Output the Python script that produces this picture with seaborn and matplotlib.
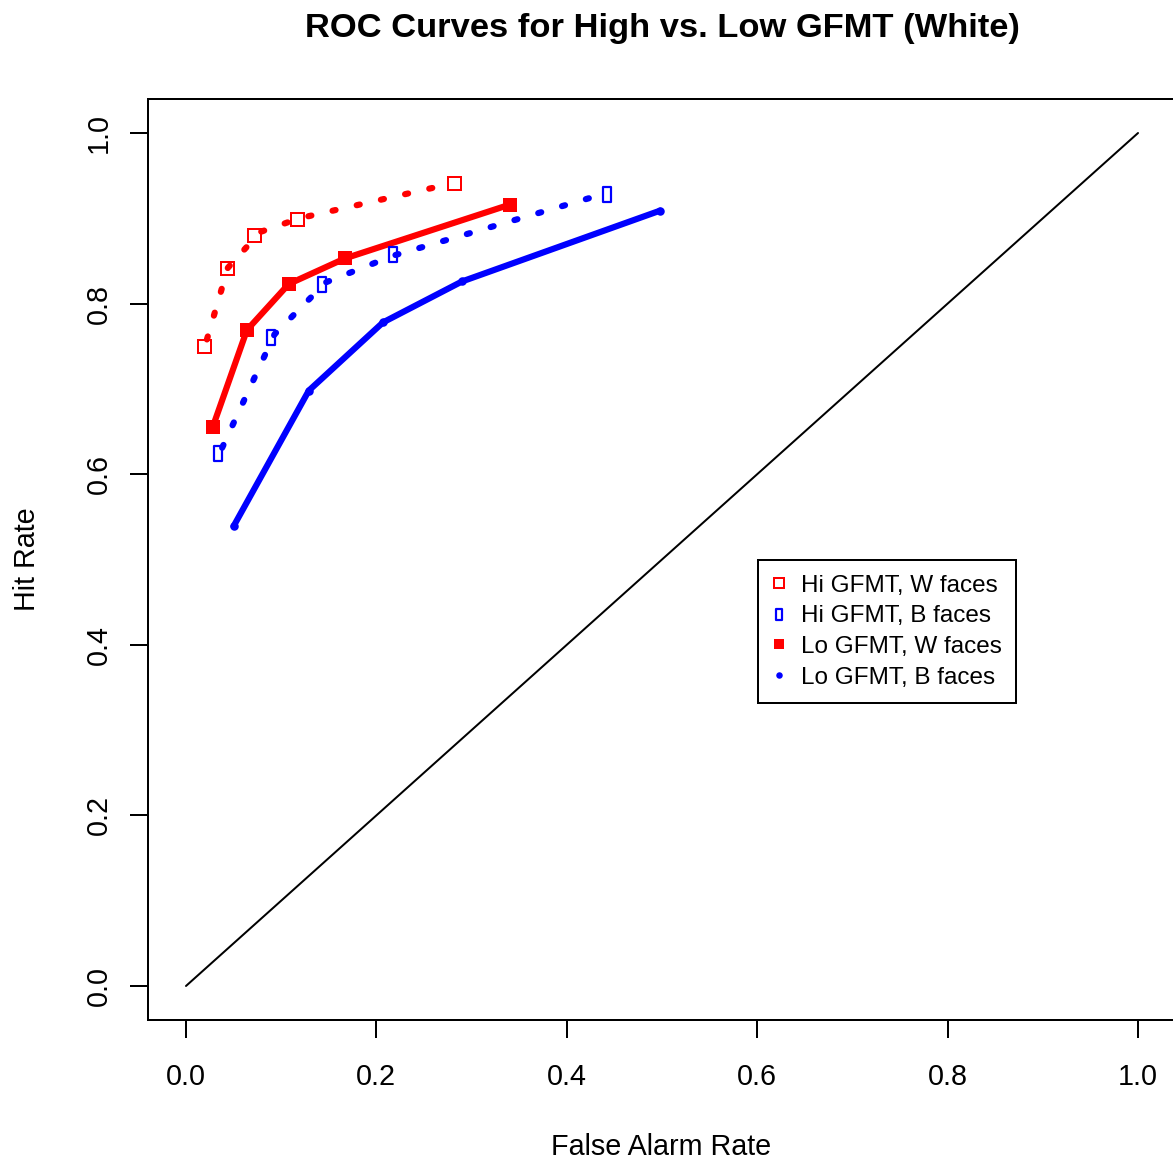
import numpy as np
import pandas as pd
import seaborn as sns
import matplotlib
matplotlib.use("Agg")
import matplotlib.pyplot as plt
from matplotlib.path import Path
from matplotlib.lines import Line2D

# ---------------- data ----------------
# Hi GFMT, White faces (open red squares, dotted red line)
hi_w_fa = [0.019, 0.043, 0.071, 0.117, 0.281]
hi_w_hit = [0.750, 0.842, 0.881, 0.899, 0.941]
hi_w_line_fa = [0.022, 0.044, 0.078, 0.119, 0.280]
hi_w_line_hit = [0.758, 0.842, 0.884, 0.900, 0.941]

# Hi GFMT, Black faces (open blue narrow rectangles, dotted blue line)
hi_b_fa = [0.034, 0.089, 0.143, 0.217, 0.442]
hi_b_hit = [0.625, 0.761, 0.823, 0.858, 0.929]
hi_b_line_fa = [0.038, 0.093, 0.147, 0.217, 0.443]
hi_b_line_hit = [0.631, 0.764, 0.825, 0.856, 0.930]

# Lo GFMT, White faces (filled red squares, solid red line)
lo_w_fa = [0.028, 0.064, 0.108, 0.167, 0.340]
lo_w_hit = [0.655, 0.769, 0.823, 0.853, 0.916]

# Lo GFMT, Black faces (small blue dots, solid blue line)
lo_b_fa = [0.050, 0.129, 0.207, 0.290, 0.498]
lo_b_hit = [0.539, 0.698, 0.778, 0.826, 0.909]

chance_x = [0.0, 1.0]
chance_y = [0.0, 1.0]

x_ticks = [0.0, 0.2, 0.4, 0.6, 0.8, 1.0]
y_ticks = [0.0, 0.2, 0.4, 0.6, 0.8, 1.0]
legend_labels = ["Hi GFMT, W faces", "Hi GFMT, B faces",
                 "Lo GFMT, W faces", "Lo GFMT, B faces"]
title = "ROC Curves for High vs. Low GFMT (White)"
xlabel = "False Alarm Rate"
ylabel = "Hit Rate"

# ---------------- style ----------------
sns.set_style("ticks")
plt.rcParams["font.family"] = ["Liberation Sans", "DejaVu Sans"]
plt.rcParams["text.color"] = "black"
plt.rcParams["axes.labelcolor"] = "black"
plt.rcParams["xtick.color"] = "black"
plt.rcParams["ytick.color"] = "black"

W, H = 1173, 1166
DPI = 100
PX = 72.0 / DPI  # points per pixel

fig = plt.figure(figsize=(W / DPI, H / DPI), dpi=DPI)
ax_left, ax_right, ax_top, ax_bottom = 147.9, 1176.1, 98.9, 1020.1
ax = fig.add_axes([ax_left / W, 1 - ax_bottom / H,
                   (ax_right - ax_left) / W, (ax_bottom - ax_top) / H])

RED = "#FF0000"
BLUE = "#0000FF"
thick = 6.2 * PX
thin = 2.0 * PX
dotted = (0, (0.5, 3.5))

rect_marker = Path([(-0.5, -1.0), (0.5, -1.0), (0.5, 1.0), (-0.5, 1.0), (-0.5, -1.0)],
                   [Path.MOVETO, Path.LINETO, Path.LINETO, Path.LINETO, Path.CLOSEPOLY])

# chance diagonal
sns.lineplot(x=chance_x, y=chance_y, ax=ax, color="black", linewidth=thin,
             sort=False, estimator=None)

# dotted lines (Hi GFMT)
sns.lineplot(x=hi_w_line_fa, y=hi_w_line_hit, ax=ax, color=RED, linewidth=thick,
             linestyle=dotted, dash_capstyle="round", sort=False, estimator=None)
sns.lineplot(x=hi_b_line_fa, y=hi_b_line_hit, ax=ax, color=BLUE, linewidth=thick,
             linestyle=dotted, dash_capstyle="round", sort=False, estimator=None)

# solid lines (Lo GFMT)
sns.lineplot(x=lo_b_fa, y=lo_b_hit, ax=ax, color=BLUE, linewidth=thick,
             sort=False, estimator=None, marker="o", markersize=8.5 * PX,
             markeredgewidth=0, markerfacecolor=BLUE, solid_capstyle="round",
             solid_joinstyle="round")
sns.lineplot(x=lo_w_fa, y=lo_w_hit, ax=ax, color=RED, linewidth=thick,
             sort=False, estimator=None, marker="s", markersize=14.5 * PX,
             markeredgewidth=0, markerfacecolor=RED, solid_capstyle="round",
             solid_joinstyle="round")

# open markers (Hi GFMT)
sns.lineplot(x=hi_w_fa, y=hi_w_hit, ax=ax, linestyle="none", marker="s",
             markersize=13 * PX, markerfacecolor="none", markeredgecolor=RED,
             markeredgewidth=2.0 * PX, sort=False, estimator=None, color=RED)
sns.lineplot(x=hi_b_fa, y=hi_b_hit, ax=ax, linestyle="none", marker=rect_marker,
             markersize=15 * PX, markerfacecolor="none", markeredgecolor=BLUE,
             markeredgewidth=2.2 * PX, sort=False, estimator=None, color=BLUE)

# axes styling
ax.set_xlim(-0.04, 1.04)
ax.set_ylim(-0.04, 1.04)
ax.set_xticks(x_ticks)
ax.set_yticks(y_ticks)
ax.set_xticklabels([f"{t:.1f}" for t in x_ticks])
ax.set_yticklabels([f"{t:.1f}" for t in y_ticks], rotation=90, va="center")
for s in ax.spines.values():
    s.set_visible(True)
    s.set_color("black")
    s.set_linewidth(thin)
fs = 28.8 * PX
ax.tick_params(axis="both", direction="out", length=18 * PX, width=thin,
               color="black", labelsize=fs, labelcolor="black")
ax.tick_params(axis="x", pad=25 * PX)
ax.tick_params(axis="y", pad=17 * PX)
ax.tick_params(top=False, right=False)

ax.set_xlabel(xlabel, fontsize=fs, color="black")
ax.set_ylabel(ylabel, fontsize=fs, color="black")
ax.xaxis.set_label_coords((661.5 - ax_left) / (ax_right - ax_left),
                          (ax_bottom - 1133) / (ax_bottom - ax_top))
ax.yaxis.set_label_coords((41 - ax_left) / (ax_right - ax_left), 0.5)
ax.set_title(title, fontsize=34.5 * PX, fontweight="bold", color="black",
             pad=(ax_top - 37) * PX)
ax.grid(False)

# legend
handles = [
    Line2D([], [], linestyle="none", marker="s", markersize=10 * PX,
           markerfacecolor="none", markeredgecolor=RED, markeredgewidth=2 * PX),
    Line2D([], [], linestyle="none", marker=rect_marker, markersize=11 * PX,
           markerfacecolor="none", markeredgecolor=BLUE, markeredgewidth=2.2 * PX),
    Line2D([], [], linestyle="none", marker="s", markersize=10.5 * PX,
           markerfacecolor=RED, markeredgewidth=0),
    Line2D([], [], linestyle="none", marker="o", markersize=6.5 * PX,
           markerfacecolor=BLUE, markeredgewidth=0),
]
leg = ax.legend(handles, legend_labels, loc="upper left",
                bbox_to_anchor=(758 / W, 1 - 560 / H), bbox_transform=fig.transFigure,
                borderaxespad=0, fontsize=24.2 * PX, frameon=True, fancybox=False,
                framealpha=1, edgecolor="black", borderpad=0.6, labelspacing=0.36,
                handlelength=0.54, handletextpad=0.64)
leg.get_frame().set_linewidth(thin)
for t in leg.get_texts():
    t.set_color("black")

fig.savefig("out.png", dpi=DPI)
